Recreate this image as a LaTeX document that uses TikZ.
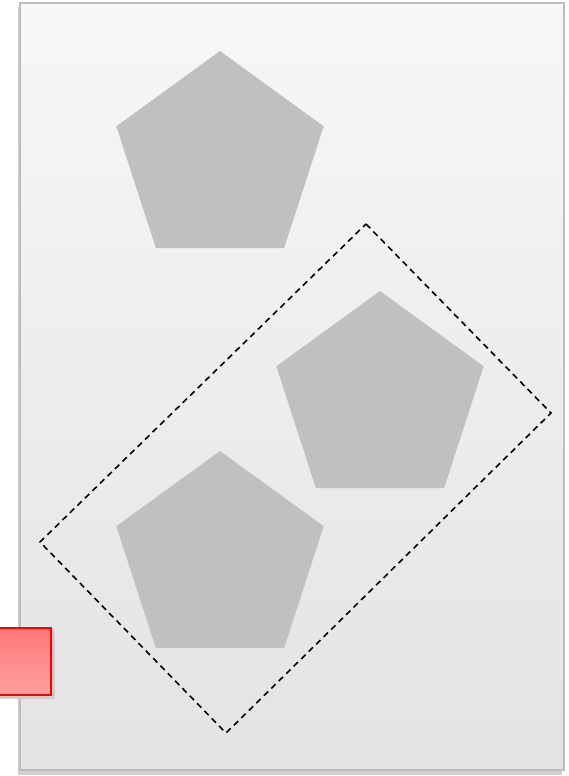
\documentclass[tikz,border=0pt]{standalone}
\usetikzlibrary{shapes.geometric}
\definecolor{pent}{HTML}{C0C0C0}
\definecolor{paneltop}{HTML}{F7F7F7}
\definecolor{panelbot}{HTML}{E3E3E3}
\definecolor{panelline}{HTML}{BDBDBD}
\definecolor{shadowc}{HTML}{CFCFCF}
\tikzset{
  pentshape/.style={regular polygon, regular polygon sides=5, minimum size=218pt, inner sep=0pt, fill=pent, draw=none},
  selbox/.style={draw=black, dash pattern=on 6pt off 4.5pt, line width=1.6pt},
}
\begin{document}
\begin{tikzpicture}[x=1pt,y=-1pt]
\useasboundingbox (0,0) rectangle (568,776);
% panel shadow
\fill[shadowc] (18,7) rectangle (562,775);
% panel
\shade[top color=paneltop, bottom color=panelbot, draw=panelline, line width=2pt] (20,3) rectangle (564,770);
% pentagons
\node[pentshape] (p1) at (220,160) {};
\node[pentshape] (p2) at (380,400) {};
\node[pentshape] (p3) at (220,560) {};
% dashed selection box
\coordinate (c1) at (366,224);
\coordinate (c2) at (551,413);
\coordinate (c3) at (226,733);
\coordinate (c4) at (40,542);
\draw[selbox] (c1) -- (c2) -- (c3) -- (c4) -- cycle;
% red square with shadow
\fill[shadowc] (-4,631) rectangle (55,699);
\shade[top color={rgb,255:red,255;green,119;blue,119}, bottom color={rgb,255:red,255;green,160;blue,160}, draw=red, line width=2pt] (-6,628) rectangle (51,695);
\end{tikzpicture}
\end{document}
